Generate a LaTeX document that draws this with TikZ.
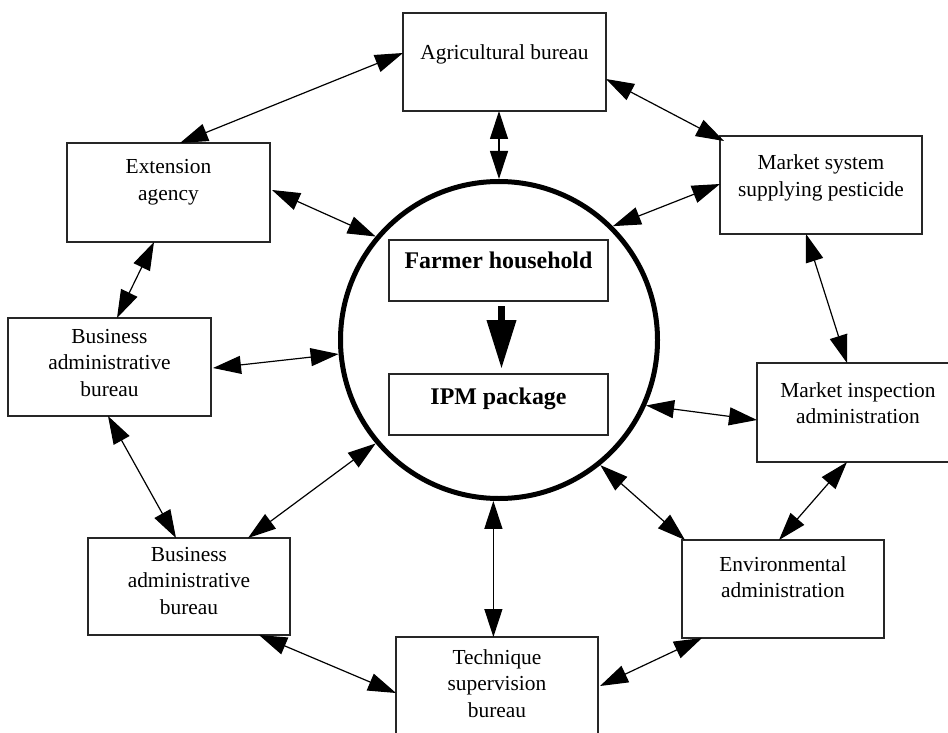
\documentclass[tikz,border=0pt]{standalone}
\usepackage{fontspec}
\setmainfont{Liberation Serif}
\usetikzlibrary{arrows.meta,calc}
\newcommand\mybx[4]{\parbox[c][#2pt][t]{#1pt}{\centering\rule{0pt}{#3pt}#4}}
\begin{document}
\begin{tikzpicture}[x=1pt,y=-1pt,
  box/.style={draw=black!85,line width=1.3pt,inner sep=0pt,outer sep=0pt,font=\fontsize{21.4}{26.8}\selectfont},
  hbox/.style={box,font=\fontsize{23.9}{30}\selectfont\bfseries},
  conn/.style={line width=1.2pt,{Triangle[length=28pt,width=18pt]}-{Triangle[length=28pt,width=18pt]}}]
\useasboundingbox (0,0) rectangle (948,733);
\node[box] (agri) at (504.5,62) {\mybx{203}{98}{47}{Agricultural bureau}};
\node[box] (ext) at (168.5,192.5) {\mybx{203}{99}{31}{Extension\\agency}};
\node[box] (bus1) at (109.5,367) {\mybx{203}{98}{25}{Business\\administrative\\bureau}};
\node[box] (bus2) at (189,586.5) {\mybx{202}{97}{23}{Business\\administrative\\bureau}};
\node[box] (tech) at (497,686) {\mybx{202}{98}{27}{Technique\\supervision\\bureau}};
\node[box] (env) at (783,589) {\mybx{202}{98}{31}{Environmental\\administration}};
\node[box] (insp) at (858,412.5) {\mybx{202}{99}{34}{Market inspection\\administration}};
\node[box] (msys) at (821,185) {\mybx{202}{98}{34}{Market system\\supplying pesticide}};
\node[hbox] (farmer) at (498.5,270.5) {\mybx{219}{61}{28}{Farmer household}};
\node[hbox] (ipm) at (498.5,404.5) {\mybx{219}{61}{30}{IPM package}};
\node[circle,draw,line width=5pt,minimum size=317pt,inner sep=0pt] (hh) at (499,340) {};
\draw[conn] ($(agri.north west)+(0,40)$) -- ($(ext.north west)+(113,0)$);
\draw[conn] (hh.90) -- (hh.90 |- agri.south);
\draw[conn] ($(agri.north east)+(0,66)$) -- ($(msys.north west)+(4,5)$);
\draw[conn] ($(msys.north west)+(0,48)$) -- (hh.45);
\draw[conn] ($(msys.south west)+(86,0)$) -- ($(insp.north west)+(90,0)$);
\draw[conn] ($(insp.north west)+(0,57)$) -- (hh.336);
\draw[conn] ($(insp.south west)+(90,0)$) -- ($(env.north west)+(97,0)$);
\draw[conn] (hh.309) -- ($(env.north west)+(3,0)$);
\draw[conn] ($(env.south west)+(20,0)$) -- ($(tech.north east)+(2,49)$);
\draw[conn] (hh.268) -- (hh.268 |- tech.north);
\draw[conn] ($(tech.north west)+(0,56)$) -- ($(bus2.south west)+(171,0)$);
\draw[conn] (hh.220) -- ($(bus2.north west)+(160,0)$);
\draw[conn] ($(bus1.south west)+(100,0)$) -- ($(bus2.north west)+(88,0)$);
\draw[conn] ($(bus1.north east)+(2,50)$) -- (hh.185);
\draw[conn] ($(ext.south west)+(87,0)$) -- ($(bus1.north west)+(109,0)$);
\draw[conn] ($(ext.north east)+(2,47)$) -- (hh.140);
\draw[line width=7pt,-{Triangle[length=49pt,width=28pt]},shorten <=5pt,shorten >=5pt] ([xshift=3pt]farmer.south) -- ([xshift=3pt]ipm.north);
\end{tikzpicture}
\end{document}
